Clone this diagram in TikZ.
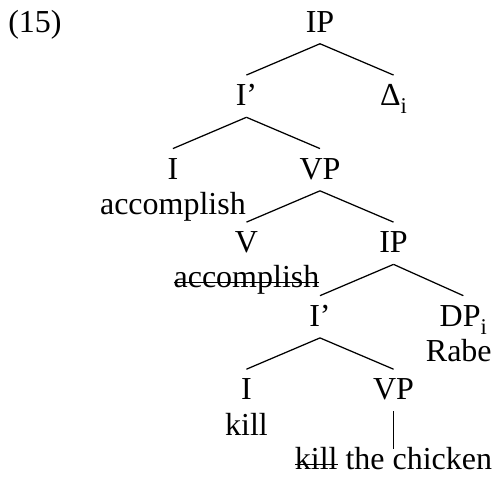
\documentclass[tikz,border=0pt]{standalone}
\usepackage{fontspec}
\setmainfont{Liberation Serif}
\tikzstyle{cat}=[font=\fontsize{12.8}{15}\selectfont,text height=8pt,text depth=0.5pt,inner xsep=0pt,inner ysep=4pt]
\tikzstyle{word}=[cat,inner ysep=0pt]
\tikzstyle{branch}=[line width=0.5pt]
\newcommand{\idx}[1]{\raisebox{-3.2pt}{\fontsize{9}{10}\selectfont #1}}
\newsavebox{\strikebox}
\newcommand{\strike}[1]{\sbox{\strikebox}{#1}\rlap{\rule[1.8pt]{\wd\strikebox}{0.6pt}}\usebox{\strikebox}}

\begin{document}
\begin{tikzpicture}[node distance=41.6pt]
          \useasboundingbox (-128pt,9.05pt) rectangle (71.2pt,-181.75pt);

          \node[cat] (IPa) {IP};
          \node[cat] (ex) [left of=IPa,node distance=114pt] {(15)};

          \node[cat] (Ibara) [below left of=IPa] {I'};
          \path[branch] (IPa.south) edge (Ibara.north);

          \node[cat] (delta) [below right of=IPa] {Δ\idx{i}};
          \path[branch] (IPa.south) edge (delta.north);

          \node[cat] (Ia) [below left of=Ibara] {I};
          \path[branch] (Ibara.south) edge (Ia.north);
          \node[word] (acca) [below of=Ia,node distance=14pt] {accomplish};

          \node[cat] (VPa) [below right of=Ibara] {VP};
          \path[branch] (Ibara.south) edge (VPa.north);

          \node[cat] (V) [below left of=VPa] {V};
          \path[branch] (VPa.south) edge (V.north);
          \node[word] (accb) [below of=V,node distance=14pt] {\strike{accomplish}};

          \node[cat] (IPb) [below right of=VPa] {IP};
          \path[branch] (VPa.south) edge (IPb.north);

          \node[cat] (Ibarb) [below left of=IPb] {I'};
          \path[branch] (IPb.south) edge (Ibarb.north);

          \node[cat] (DP) [below right of=IPb,xshift=-1.5pt] {DP\idx{i}};
          \path[branch] (IPb.south) edge (DP.north);
          \node[word] (rabe) [below of=DP,node distance=14pt,xshift=-1.8pt] {Rabe};

          \node[cat] (Ib) [below left of=Ibarb] {I};
          \path[branch] (Ibarb.south) edge (Ib.north);
          \node[word] (kill) [below of=Ib,node distance=14.5pt] {kill};

          \node[cat] (VPb) [below right of=Ibarb] {VP};
          \path[branch] (Ibarb.south) edge (VPb.north);
          \node[word] (chick) [below of=VPb,node distance=28pt] {\strike{kill} the chicken};
          \path[branch] (VPb.south) edge (chick.north);
        \end{tikzpicture}
\end{document}
